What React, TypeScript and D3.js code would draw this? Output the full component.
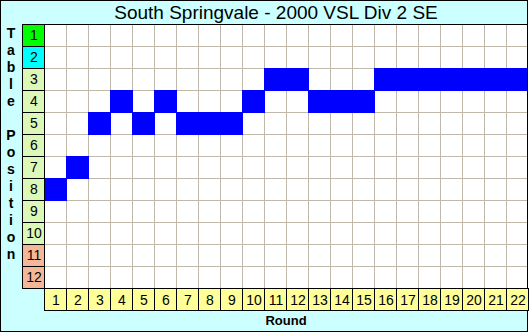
import React from "react";
import * as d3 from "d3";

const title = "South Springvale - 2000 VSL Div 2 SE";
const rounds = d3.range(1, 23);
const positions = d3.range(1, 13);
const tablePosition = [8, 7, 5, 4, 5, 4, 5, 5, 5, 4, 3, 3, 4, 4, 4, 3, 3, 3, 3, 3, 3, 3];
const posColors = ["#00ff00", "#00ffff", "#dcf8b8", "#dcf8b8", "#dcf8b8", "#dcf8b8", "#dcf8b8", "#dcf8b8", "#dcf8b8", "#dcf8b8", "#f4b898", "#f4b898"];
const yLabel = "Table Position";
const xLabel = "Round";

export default function App() {
  const W = 529, H = 333;
  const x = d3.scaleBand<number>().domain(rounds).range([44, 528]);
  const y = d3.scaleBand<number>().domain(positions).range([24, 288]);
  const bw = x.bandwidth();
  const bh = y.bandwidth();
  const font = "Arial, 'Liberation Sans', sans-serif";
  return (
    <svg width={W} height={H} style={{ position: "absolute", left: 0, top: 0 }}>
      <rect x={0.5} y={0.5} width={527} height={331} fill="#ccffff" stroke="#000" />
      <text x={276} y={19} textAnchor="middle" fontFamily={font} fontSize={19} fill="#000">{title}</text>
      <rect x={44} y={24} width={484} height={264} fill="#fff" />
      {rounds.slice(1).map((r) => (
        <line key={"vx" + r} x1={x(r)! + 0.5} x2={x(r)! + 0.5} y1={24} y2={288} stroke="#c0b8a8" />
      ))}
      {positions.slice(1).map((p) => (
        <line key={"hy" + p} x1={44} x2={528} y1={y(p)! + 0.5} y2={y(p)! + 0.5} stroke="#c0b8a8" />
      ))}
      {tablePosition.map((p, i) => (
        <rect key={"c" + i} x={x(rounds[i])} y={y(p)} width={bw + (i < 21 ? 1 : 0)} height={bh + 1} fill="#0000ff" />
      ))}
      <line x1={44} x2={528} y1={24.5} y2={24.5} stroke="#000" />
      <line x1={527.5} x2={527.5} y1={24} y2={289} stroke="#000" />
      {positions.map((p, i) => (
        <g key={"p" + p}>
          <rect x={22.5} y={y(p)! + 0.5} width={22} height={bh} fill={posColors[i]} stroke="#000" />
          <text x={34} y={y(p)! + bh / 2 + 5} textAnchor="middle" fontFamily={font} fontSize={14} fill="#000">{p}</text>
        </g>
      ))}
      {rounds.map((r) => (
        <g key={"r" + r}>
          <rect x={x(r)! + 0.5} y={288.5} width={bw} height={22} fill="#ffff99" stroke="#000" />
          <text x={x(r)! + bw / 2 + 1} y={304.5} textAnchor="middle" fontFamily={font} fontSize={14} fill="#000">{r}</text>
        </g>
      ))}
      {yLabel.split("").map((ch, i) => (
        <text key={"yl" + i} x={11} y={38 + 17 * i} textAnchor="middle" fontFamily={font} fontSize={14} fontWeight="bold" fill="#000">{ch}</text>
      ))}
      <text x={286} y={325} textAnchor="middle" fontFamily={font} fontSize={13} fontWeight="bold" fill="#000">{xLabel}</text>
    </svg>
  );
}
